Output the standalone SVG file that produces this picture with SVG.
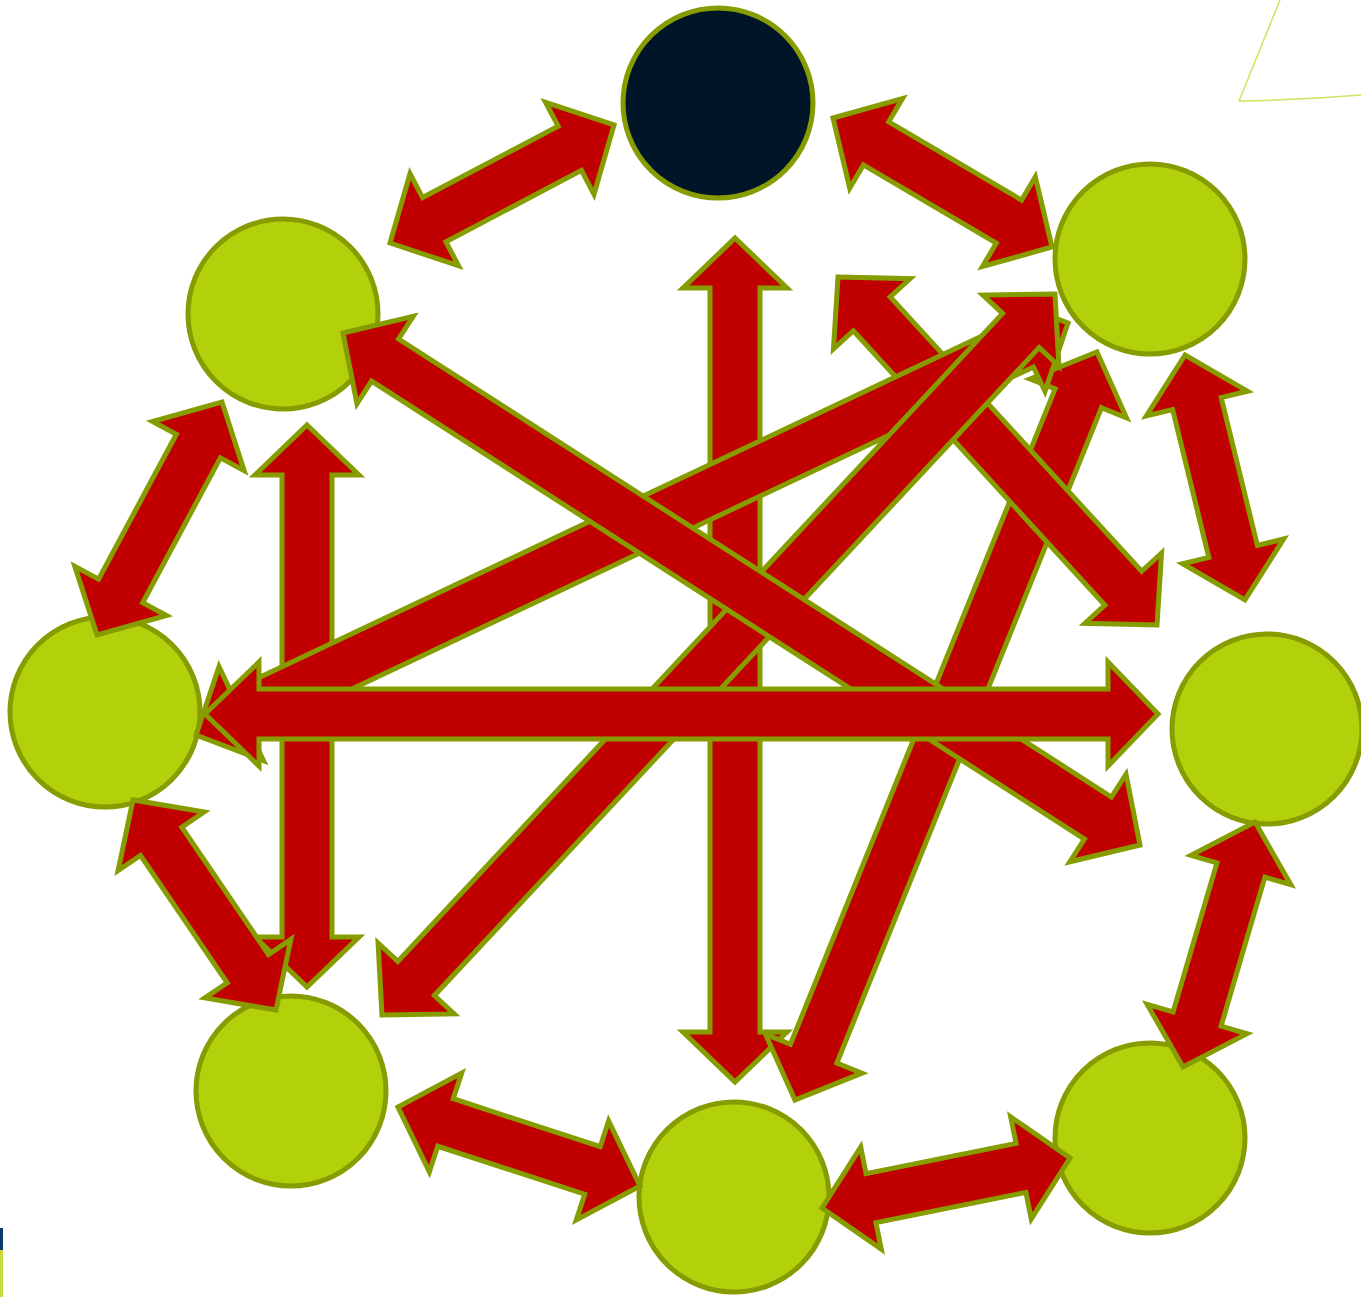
<svg xmlns="http://www.w3.org/2000/svg" width="1361" height="1297" viewBox="0 0 1361 1297">
<style>
.node{fill:#B3D10A;stroke:#879C00;stroke-width:5}
.dark{fill:#001628;stroke:#879C00;stroke-width:5}
.arr{fill:#C00000;stroke:#879C00;stroke-width:5;stroke-linejoin:miter;stroke-miterlimit:10}
</style>
<rect width="1361" height="1297" fill="#ffffff"/>
<path d="M1280,0 L1239,101 Q1300,100 1361,95" fill="none" stroke="#D4E25E" stroke-width="1.5"/>
<rect x="0" y="1228" width="3" height="22" fill="#0B3A6E"/>
<rect x="0" y="1250" width="3" height="47" fill="#C8DB3A"/>
<g id="n0"><circle class="dark" cx="718" cy="103" r="95"/></g>
<g id="n1"><circle class="node" cx="283" cy="314" r="95"/></g>
<g id="n2"><circle class="node" cx="1150" cy="259" r="95"/></g>
<g id="n3"><circle class="node" cx="105" cy="712" r="95"/></g>
<g id="n4"><circle class="node" cx="1267" cy="729" r="95"/></g>
<g id="n5"><circle class="node" cx="291" cy="1091" r="95"/></g>
<g id="n6"><circle class="node" cx="734" cy="1197" r="95"/></g>
<g id="n7"><circle class="node" cx="1150" cy="1138" r="95"/></g>
<g id="connectors">
<polygon class="arr" transform="translate(307,425) rotate(90)" points="0,0 50,-52 50,-25 512,-25 512,-52 562,0 512,52 512,25 50,25 50,52"/>
<polygon class="arr" transform="translate(390,243) rotate(-27.78)" points="0,0 50,-52 50,-25 203.2,-25 203.2,-52 253.2,0 203.2,52 203.2,25 50,25 50,52"/>
<polygon class="arr" transform="translate(833,118) rotate(30.5)" points="0,0 50,-52 50,-25 204.2,-25 204.2,-52 254.2,0 204.2,52 204.2,25 50,25 50,52"/>
<polygon class="arr" transform="translate(1185,355) rotate(76.24)" points="0,0 50,-52 50,-25 202.2,-25 202.2,-52 252.2,0 202.2,52 202.2,25 50,25 50,52"/>
<polygon class="arr" transform="translate(1255,822) rotate(106.38)" points="0,0 50,-52 50,-25 205.4,-25 205.4,-52 255.4,0 205.4,52 205.4,25 50,25 50,52"/>
<polygon class="arr" transform="translate(1070,1158) rotate(168.6)" points="0,0 50,-52 50,-25 203,-25 203,-52 253,0 203,52 203,25 50,25 50,52"/>
<polygon class="arr" transform="translate(640,1186) rotate(-161.92)" points="0,0 50,-52 50,-25 204.6,-25 204.6,-52 254.6,0 204.6,52 204.6,25 50,25 50,52"/>
<polygon class="arr" transform="translate(276,1010) rotate(-124.25)" points="0,0 50,-52 50,-25 204.1,-25 204.1,-52 254.1,0 204.1,52 204.1,25 50,25 50,52"/>
<polygon class="arr" transform="translate(97,635) rotate(-61.79)" points="0,0 50,-52 50,-25 214.4,-25 214.4,-52 264.4,0 214.4,52 214.4,25 50,25 50,52"/>
<polygon class="arr" transform="translate(735,238) rotate(90)" points="0,0 50,-52 50,-25 794,-25 794,-52 844,0 794,52 794,25 50,25 50,52"/>
<polygon class="arr" transform="translate(1097,352) rotate(111.99)" points="0,0 50,-52 50,-25 756.7,-25 756.7,-52 806.7,0 756.7,52 756.7,25 50,25 50,52"/>
<polygon class="arr" transform="translate(838,277) rotate(47.49)" points="0,0 50,-52 50,-25 422.1,-25 422.1,-52 472.1,0 422.1,52 422.1,25 50,25 50,52"/>
<polygon class="arr" transform="translate(1068,323) rotate(154.71)" points="0,0 50,-52 50,-25 914.4,-25 914.4,-52 964.4,0 914.4,52 914.4,25 50,25 50,52"/>
<polygon class="arr" transform="translate(1055,294) rotate(133.03)" points="0,0 50,-52 50,-25 936.3,-25 936.3,-52 986.3,0 936.3,52 936.3,25 50,25 50,52"/>
<polygon class="arr" transform="translate(343,333) rotate(32.72)" points="0,0 50,-52 50,-25 897.3,-25 897.3,-52 947.3,0 897.3,52 897.3,25 50,25 50,52"/>
<polygon class="arr" transform="translate(205,714)" points="0,0 54,-52 54,-25 903,-25 903,-52 953,0 903,52 903,25 54,25 54,52"/>
</g>
</svg>
